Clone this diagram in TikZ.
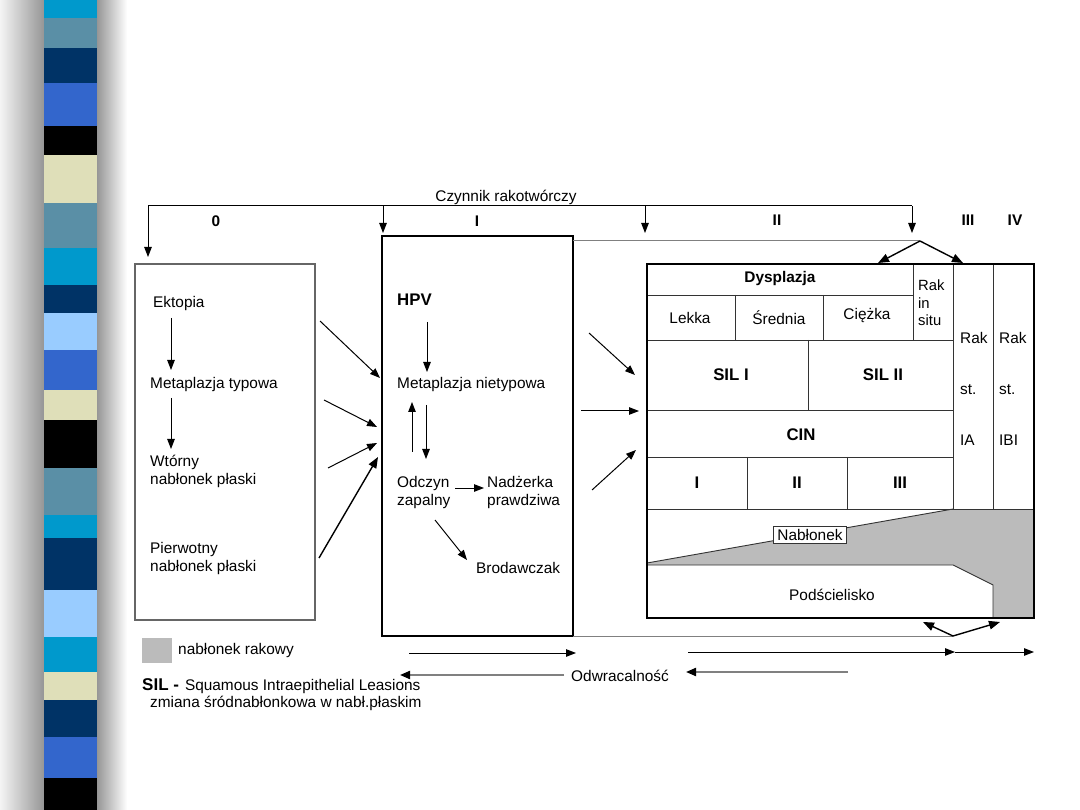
\documentclass[tikz,border=0pt]{standalone}
\usepackage{fontspec}
\setmainfont{Liberation Sans}
\usetikzlibrary{arrows.meta}
\definecolor{cyanS}{HTML}{0099CC}
\definecolor{steelS}{HTML}{5A8FA6}
\definecolor{navyS}{HTML}{003366}
\definecolor{blueS}{HTML}{3366CC}
\definecolor{beigeS}{HTML}{DFDFB9}
\definecolor{lightS}{HTML}{99CCFF}
\definecolor{shadeS}{HTML}{969696}
\definecolor{cancer}{HTML}{BBBBBB}
\definecolor{lineG}{HTML}{808080}
\begin{document}
\begin{tikzpicture}[x=1pt,y=-1pt,
  txt/.style={font=\fontsize{15.4}{18}\selectfont, inner sep=0pt},
  btxt/.style={font=\fontsize{15.4}{18}\selectfont\bfseries, inner sep=0pt},
  bbig/.style={font=\fontsize{16.8}{19}\selectfont\bfseries, inner sep=0pt},
  arr/.style={-{Triangle[length=10pt,width=7.5pt]}, line width=1pt},
  thickarr/.style={-{Triangle[length=11pt,width=8.5pt]}, line width=1.4pt},
  backarr/.style={-{Triangle[length=10pt,width=8pt,color=black]}, draw=lineG, line width=2pt},
  inner/.style={line width=0.9pt, draw=black!80},
  boxthick/.style={line width=2pt, draw=black},
]
\useasboundingbox (0,0) rectangle (1080,810);
\fill[white] (0,0) rectangle (1080,810);
% left decorative band
\shade[left color=white!90!shadeS, right color=shadeS] (0,0) rectangle (44,810);
\shade[left color=shadeS, right color=white] (97,0) rectangle (127,810);
\foreach \ya/\yb/\c in {0/18/cyanS,18/48/steelS,48/83/navyS,83/126/blueS,126/155/black,
  155/203/beigeS,203/248/steelS,248/285/cyanS,285/313/navyS,313/350/lightS,350/390/blueS,
  390/420/beigeS,420/468/black,468/515/steelS,515/538/cyanS,538/590/navyS,590/637/lightS,
  637/672/cyanS,672/700/beigeS,700/737/navyS,737/778/blueS,778/810/black}
  \fill[\c] (44,\ya) rectangle (97,\yb);

% header
\node[txt] (czy) at (506,197) {Czynnik rakotwórczy};
\coordinate (hl) at (148,206);
\coordinate (hr) at (912,206);
\draw[line width=1pt] (hl) -- (hr);
\coordinate (h1) at (383,206);
\coordinate (h2) at (645,206);
\coordinate (t0) at (148,257);
\coordinate (t1) at (383,233);
\coordinate (t2) at (645,233);
\coordinate (t3) at (912,233);
\draw[arr] (hl) -- (t0);
\draw[arr] (h1) -- (t1);
\draw[arr] (h2) -- (t2);
\draw[arr] (hr) -- (t3);
\node[btxt] (s0) at (216,221) {0};
\node[btxt] (s1) at (477,221) {I};
\node[btxt] (s2) at (777,220) {II};
\node[btxt] (s3) at (968,220) {III};
\node[btxt] (s4) at (1015,220) {IV};

% left box
\draw[line width=1.2pt, draw=black!60] (135,264) rectangle (315,620);
\node[txt, anchor=west] (ekt) at (153,304) {Ektopia};
\node[txt, anchor=west] (mt) at (150,385) {Metaplazja typowa};
\node[txt, anchor=west, align=left] (wt) at (150,471) {Wtórny\\nabłonek płaski};
\node[txt, anchor=west, align=left] (pw) at (150,559) {Pierwotny\\nabłonek płaski};
\coordinate (a1s) at (171,318); \coordinate (a1e) at (171,370);
\coordinate (a2s) at (171,398); \coordinate (a2e) at (171,449);
\draw[arr] (a1s) -- (a1e);
\draw[arr] (a2s) -- (a2e);

% arrows left -> middle
\coordinate (l1s) at (320,321); \coordinate (l1e) at (380,378);
\coordinate (l2s) at (324,400); \coordinate (l2e) at (377,427);
\coordinate (l3s) at (328,468); \coordinate (l3e) at (377,443);
\coordinate (l4s) at (319,558); \coordinate (l4e) at (378,457);
\draw[arr] (l1s) -- (l1e);
\draw[arr] (l2s) -- (l2e);
\draw[arr] (l3s) -- (l3e);
\draw[thickarr] (l4s) -- (l4e);

% middle box
\draw[boxthick] (382,236) rectangle (573,636);
\node[bbig, anchor=west] (hpv) at (397,300) {HPV};
\node[txt, anchor=west] (mn) at (397,385) {Metaplazja nietypowa};
\node[txt, anchor=west, align=left] (odc) at (397,493) {Odczyn\\zapalny};
\node[txt, anchor=west, align=left] (nad) at (487,493) {Nadżerka\\prawdziwa};
\node[txt, anchor=west] (bro) at (476,568) {Brodawczak};
\coordinate (m1s) at (427,322); \coordinate (m1e) at (427,372);
\coordinate (m2s) at (412,452); \coordinate (m2e) at (412,402);
\coordinate (m3s) at (426,405); \coordinate (m3e) at (426,459);
\coordinate (m4s) at (455,488); \coordinate (m4e) at (484,488);
\coordinate (m5s) at (435,520); \coordinate (m5e) at (467,560);
\draw[arr] (m1s) -- (m1e);
\draw[arr] (m2s) -- (m2e);
\draw[arr] (m3s) -- (m3e);
\draw[arr] (m4s) -- (m4e);
\draw[arr] (m5s) -- (m5e);

% arrows middle -> right
\coordinate (r1s) at (589,333); \coordinate (r1e) at (635,375);
\coordinate (r2s) at (581,411); \coordinate (r2e) at (639,411);
\coordinate (r3s) at (592,490); \coordinate (r3e) at (636,450);
\draw[arr] (r1s) -- (r1e);
\draw[arr] (r2s) -- (r2e);
\draw[arr] (r3s) -- (r3e);

% connector lines with split arrows
\coordinate (gt0) at (573,241); \coordinate (apT) at (920,241);
\coordinate (tl) at (878,263); \coordinate (tr) at (963,263);
\draw[line width=1pt, draw=lineG] (gt0) -- (apT);
\draw[thickarr] (apT) -- (tl);
\draw[thickarr] (apT) -- (tr);
\coordinate (gb0) at (573,636); \coordinate (apB) at (953,636);
\coordinate (bl) at (923,622); \coordinate (br) at (1000,622);
\draw[line width=1pt, draw=lineG] (gb0) -- (apB);
\draw[thickarr] (apB) -- (bl);
\draw[thickarr] (apB) -- (br);

% right box: cancer region
\fill[cancer] (647,563) -- (953,509) -- (1034,509) -- (1034,618) -- (993,618) -- (993,585) -- (953,565) -- (647,565) -- cycle;
\draw[inner] (647,563) -- (953,509);
\draw[inner] (647,565) -- (953,565) -- (993,585) -- (993,618);
% grid
\draw[inner] (953,264) -- (953,509);
\draw[inner] (993,264) -- (993,509);
\draw[inner] (647,295) -- (913,295);
\draw[inner] (913,264) -- (913,340);
\draw[inner] (735,295) -- (735,340);
\draw[inner] (823,295) -- (823,340);
\draw[inner] (647,340) -- (953,340);
\draw[inner] (808,340) -- (808,410);
\draw[inner] (647,410) -- (953,410);
\draw[inner] (647,457) -- (953,457);
\draw[inner] (747,457) -- (747,509);
\draw[inner] (847,457) -- (847,509);
\draw[inner] (647,509) -- (1034,509);
\draw[boxthick] (647,264) rectangle (1034,618);

\node[btxt] (dys) at (780,279) {Dysplazja};
\node[txt, anchor=west, align=left, font=\fontsize{14.8}{17.5}\selectfont] (ris) at (918,303) {Rak\\in\\situ};
\node[txt] (lek) at (690,318) {Lekka};
\node[txt] (sre) at (779,318) {Średnia};
\node[txt] (cie) at (867,316) {Ciężka};
\node[bbig] (sil1) at (731,375) {SIL I};
\node[bbig] (sil2) at (883,375) {SIL II};
\node[bbig] (cin) at (801,435) {CIN};
\node[bbig] (c1) at (697,483) {I};
\node[bbig] (c2) at (797,483) {II};
\node[bbig] (c3) at (900,483) {III};
\node[txt, anchor=west, align=left, font=\fontsize{15.4}{51}\selectfont] (ria) at (960,389) {Rak\\st.\\IA};
\node[txt, anchor=west, align=left, font=\fontsize{15.4}{51}\selectfont] (rib) at (999,389) {Rak\\st.\\IBI};
\node[txt, draw=black!80, fill=white, line width=0.9pt, inner xsep=4pt, inner ysep=2.5pt] (nab) at (810,535) {Nabłonek};
\node[txt] (pod) at (832,595) {Podścielisko};

% legend
\fill[cancer] (142,638) rectangle (172,663);
\node[txt, anchor=west] (nr) at (178,651) {nabłonek rakowy};
\node[txt, anchor=west] (sil) at (142,686) {{\fontsize{17}{19}\selectfont\bfseries SIL -}\hspace{6pt}Squamous Intraepithelial Leasions};
\node[txt, anchor=west] (zm) at (150,703) {zmiana śródnabłonkowa w nabł.płaskim};

% reversibility arrows
\node[txt] (odw) at (620,676) {Odwracalność};
\coordinate (f1s) at (409,653); \coordinate (f1e) at (576,653);
\coordinate (b1s) at (564,675); \coordinate (b1e) at (400,675);
\coordinate (f2s) at (688,652); \coordinate (f2e) at (955,652);
\coordinate (f3e) at (1034,652);
\coordinate (b2s) at (848,672); \coordinate (b2e) at (686,672);
\draw[arr] (f1s) -- (f1e);
\draw[arr] (f2s) -- (f2e);
\draw[arr] (f2e) -- (f3e);
\draw[backarr] (b1s) -- (b1e);
\draw[backarr] (b2s) -- (b2e);
\end{tikzpicture}
\end{document}
